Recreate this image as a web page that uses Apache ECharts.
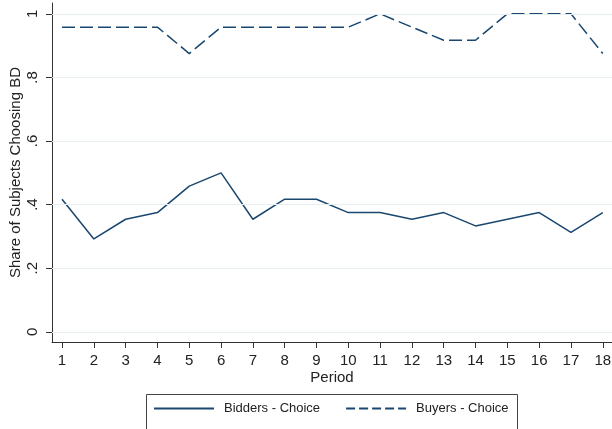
<!DOCTYPE html>
<html><head><meta charset="utf-8">
<script src="https://cdn.jsdelivr.net/npm/echarts@6/dist/echarts.min.js"></script>
<style>html,body{margin:0;padding:0;background:#fff}#c{width:612px;height:429px}</style>
</head><body><div id="c"></div>
<script>
var periods = [1,2,3,4,5,6,7,8,9,10,11,12,13,14,15,16,17,18];
var bidders = [0.417,0.292,0.354,0.375,0.458,0.5,0.354,0.417,0.417,0.375,0.375,0.354,0.375,0.333,0.354,0.375,0.313,0.375];
var buyers  = [0.958,0.958,0.958,0.958,0.875,0.958,0.958,0.958,0.958,0.958,1.0,0.958,0.917,0.917,1.0,1.0,1.0,0.875];
var yTicks = [0,0.2,0.4,0.6,0.8,1];
var yTickLabels = ['0','.2','.4','.6','.8','1'];

var FONT = 'Arial, "Liberation Sans", sans-serif';
var navy = '#1a476f';
function pairs(v){ return v.map(function(y,i){ return [periods[i], y]; }); }

var chart = echarts.init(document.getElementById('c'), null, {renderer:'canvas'});
chart.setOption({
  animation:false,
  textStyle:{fontFamily:FONT},
  grid:{left:52, right:0, top:3, bottom:87, containLabel:false, outerBoundsMode:'none'},
  xAxis:{
    type:'value', min:0.685, max:18.29,
    name:'Period', nameLocation:'middle', nameGap:28, nameMoveOverlap:false,
    nameTextStyle:{fontSize:15, color:'#222', fontFamily:FONT},
    axisLine:{show:true, onZero:false, lineStyle:{color:'#333', width:1}},
    axisTick:{show:true, length:6, lineStyle:{color:'#333'}, customValues:periods},
    axisLabel:{fontSize:15, color:'#222', margin:11, customValues:periods, fontFamily:FONT, hideOverlap:false},
    splitLine:{show:false}
  },
  yAxis:{
    type:'value', min:-0.032, max:1.034,
    name:'Share of Subjects Choosing BD', nameLocation:'middle', nameGap:29, nameMoveOverlap:false,
    nameTextStyle:{fontSize:15, color:'#222', fontFamily:FONT},
    axisLine:{show:true, onZero:false, lineStyle:{color:'#333', width:1}},
    axisTick:{show:true, length:6, lineStyle:{color:'#333'}, customValues:yTicks},
    axisLabel:{fontSize:15, color:'#222', margin:12, rotate:90, customValues:yTicks, fontFamily:FONT,
      formatter:function(v){ var i=yTicks.indexOf(+(+v).toFixed(2)); return i>=0?yTickLabels[i]:''; }},
    splitLine:{show:false}
  },
  legend:{
    left:153, top:402, padding:0, itemWidth:60, itemHeight:14, itemGap:25,
    itemStyle:{opacity:0},
    textStyle:{fontSize:13, color:'#222', fontFamily:FONT, padding:[0,0,0,5]},
    data:[
      {name:'Bidders - Choice', itemStyle:{opacity:0}},
      {name:'Buyers - Choice', itemStyle:{opacity:0}, lineStyle:{type:[9,4]}}
    ]
  },
  graphic:[{type:'rect', shape:{x:146.5, y:394.5, width:371, height:60}, style:{fill:'none', stroke:'#444', lineWidth:1}, silent:true}],
  series:[
    {name:'grid', type:'line', data:[], silent:true,
     markLine:{silent:true, symbol:'none', label:{show:false},
       lineStyle:{color:'#e6eef0', width:1.2, type:'solid'},
       data: yTicks.map(function(t){ return {yAxis:t}; })}},
    {name:'Bidders - Choice', type:'line', data:pairs(bidders), symbol:'none',
     lineStyle:{color:navy, width:1.5}, itemStyle:{color:navy}},
    {name:'Buyers - Choice', type:'line', data:pairs(buyers), symbol:'none',
     lineStyle:{color:navy, width:1.5, type:[13,5]}, itemStyle:{color:navy}}
  ]
});
</script></body></html>
